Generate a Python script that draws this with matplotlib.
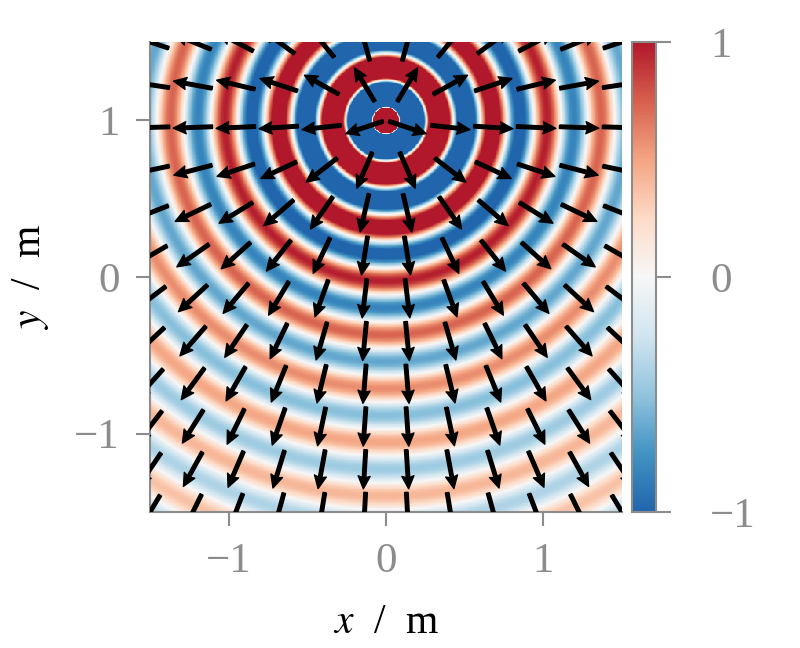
import numpy as np
import matplotlib
matplotlib.use("Agg")
import matplotlib.pyplot as plt
from matplotlib.colors import LinearSegmentedColormap

# point source in the plane, f = 1000 Hz, c = 343 m/s
source_pos = (0.0, 1.0)
freq = 1000.0
speed = 343.0
xlim = (-1.5, 1.5)
ylim = (-1.5, 1.5)
field_step = 0.005
arrow_pos = np.linspace(-1.5, 1.5, 12)
ticks = [-1, 0, 1]
cbar_ticks = [-1, 0, 1]

# ColorBrewer RdBu (9 class), blue -> red
rdbu9 = ["#2166ac", "#4393c3", "#92c5de", "#d1e5f0", "#f7f7f7",
         "#fddbc7", "#f4a582", "#d6604d", "#b2182b"]
cmap = LinearSegmentedColormap.from_list("rdbu9", rdbu9)

plt.rcParams['font.family'] = ['Liberation Serif', 'DejaVu Serif']
plt.rcParams['mathtext.fontset'] = 'stix'
plt.rcParams['axes.unicode_minus'] = True

# sound pressure, normalised to |p| at the origin
xs = np.arange(xlim[0], xlim[1] + field_step / 2, field_step)
ys = np.arange(ylim[0], ylim[1] + field_step / 2, field_step)
X, Y = np.meshgrid(xs, ys)
r = np.hypot(X - source_pos[0], Y - source_pos[1])
k = 2 * np.pi * freq / speed
p = np.exp(-1j * k * r) / (4 * np.pi * r)
r0 = np.hypot(0 - source_pos[0], 0 - source_pos[1])
p = p / (1 / (4 * np.pi * r0))

# particle velocity direction (unit vectors away from the source)
AX, AY = np.meshgrid(arrow_pos, arrow_pos)
ra = np.hypot(AX - source_pos[0], AY - source_pos[1])
U = (AX - source_pos[0]) / ra
V = (AY - source_pos[1]) / ra

fig = plt.figure(figsize=(8, 6.48), dpi=100)
ax = fig.add_axes([0.1875, 0.2099, 0.59, 0.7253])
cax = fig.add_axes([0.79, 0.2099, 0.03, 0.7253])

im = ax.imshow(np.real(p), cmap=cmap, vmin=-1, vmax=1, origin='lower',
               extent=[xs[0], xs[-1], ys[0], ys[-1]], interpolation='nearest')
ax.quiver(AX, AY, U, V, angles='xy', scale_units='xy', scale=4, pivot='mid',
          width=0.0075, headwidth=3.4, headlength=3.6, headaxislength=3.2,
          color='black', edgecolor='black', linewidth=1.0, zorder=3)
ax.set_xlim(xlim)
ax.set_ylim(ylim)
ax.set_aspect('auto')

gray = '#8c8c8c'
for s in ['top', 'right']:
    ax.spines[s].set_visible(False)
for s in ['left', 'bottom']:
    ax.spines[s].set_color(gray)
    ax.spines[s].set_linewidth(1.5)
ax.set_xticks(ticks)
ax.set_yticks(ticks)
ax.tick_params(colors=gray, labelsize=31, length=10, width=1.5, pad=12)
ax.set_xlabel('$x$  /  m', fontsize=30, labelpad=16)
ax.set_ylabel('$y$  /  m', fontsize=30, labelpad=16)

cb = fig.colorbar(im, cax=cax, ticks=cbar_ticks)
cb.outline.set_edgecolor(gray)
cb.outline.set_linewidth(1.5)
cax.tick_params(colors=gray, labelsize=31, length=11, width=1.5, pad=28)

fig.savefig('out.png', dpi=100)
